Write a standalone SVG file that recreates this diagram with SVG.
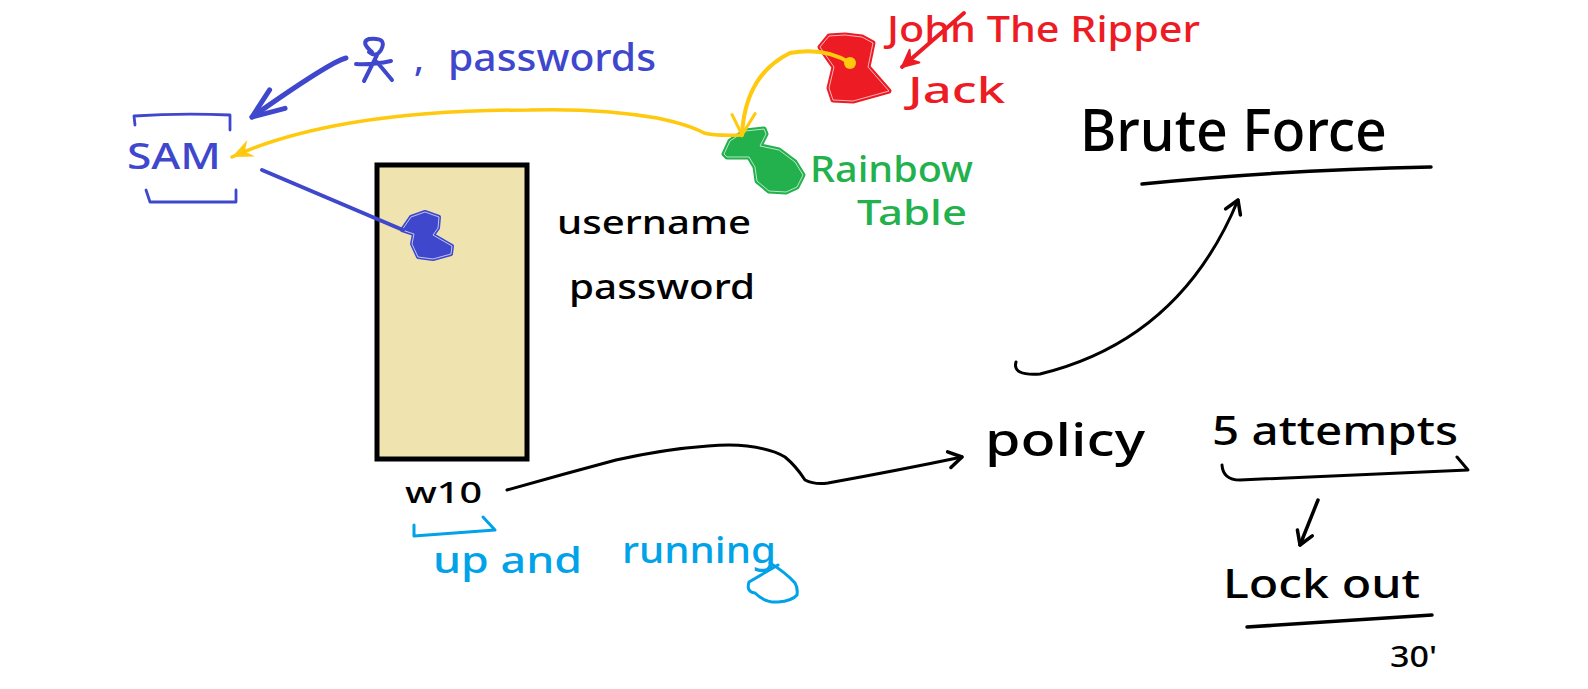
<svg xmlns="http://www.w3.org/2000/svg" width="1588" height="689" viewBox="0 0 1588 689">
<style>
text{font-family:"Noto Sans","Liberation Sans",sans-serif;font-weight:500}
.s{fill:none;stroke-linecap:round;stroke-linejoin:round}
.k{stroke:#000}.b{stroke:#3f48cc}.y{stroke:#ffc90e}.r{stroke:#ed1c24}.c{stroke:#00a2e8}
.tb{fill:#3f48cc}.tk{fill:#000}.tr{fill:#ed1c24}.tg{fill:#22b14c}.tc{fill:#00a2e8}
.edge{fill:none;stroke:#fff;stroke-width:.8;stroke-linejoin:round;opacity:.85}
</style>
<defs>
<marker id="hb" viewBox="-40 -20 44 40" refX="0" refY="0" markerWidth="44" markerHeight="40" markerUnits="userSpaceOnUse" orient="auto"><path d="M-32-12 0 0-30 12" fill="none" stroke="#3f48cc" stroke-width="5" stroke-linecap="round" stroke-linejoin="round"/></marker>
<marker id="hy" viewBox="-24 -14 28 28" refX="0" refY="0" markerWidth="28" markerHeight="28" markerUnits="userSpaceOnUse" orient="auto"><path d="M-21-9 0 0-21 9-14 0Z" fill="#ffc90e"/></marker>
<marker id="hv" viewBox="-28 -16 32 32" refX="0" refY="0" markerWidth="32" markerHeight="32" markerUnits="userSpaceOnUse" orient="auto"><path d="M-22-12 0 0-20 11" fill="none" stroke="#ffc90e" stroke-width="3" stroke-linecap="round"/></marker>
<marker id="hk" viewBox="-20 -14 24 28" refX="0" refY="0" markerWidth="24" markerHeight="28" markerUnits="userSpaceOnUse" orient="auto"><path d="M-13-8 0 0-13 8" fill="none" stroke="#000" stroke-width="3.5" stroke-linecap="round" stroke-linejoin="round"/></marker>
<marker id="hr" viewBox="-24 -14 28 28" refX="0" refY="0" markerWidth="28" markerHeight="28" markerUnits="userSpaceOnUse" orient="auto"><path d="M-16-8 0 0-17 8-11 0Z" fill="#ed1c24" stroke="#ed1c24" stroke-width="2" stroke-linejoin="round"/></marker>
</defs>

<g id="win10-box">
<rect x="377" y="165" width="150" height="294" fill="#efe4b0" stroke="#000" stroke-width="5"/>
<text class="tk" x="405" y="503" font-size="28" textLength="77" lengthAdjust="spacingAndGlyphs">w10</text>
</g>

<g id="sam">
<path class="s b" stroke-width="2.8" d="M135 125 134 116Q180 113 230 115V130M146 190 150 202H236V190"/>
<text class="tb" x="127" y="169" font-size="36" textLength="94" lengthAdjust="spacingAndGlyphs">SAM</text>
</g>

<g id="passwords-label">
<path class="s b" stroke-width="4" d="M372 52Q360 42 369 39 388 37 381 50 376 58 369 52M356 64Q372 65 391 61M377 55 364 81M377 62 392 80"/>
<text class="tb" x="414" y="71" font-size="36">,</text>
<text class="tb" x="448" y="71" font-size="38" textLength="208" lengthAdjust="spacingAndGlyphs">passwords</text>
</g>

<g id="blue-blob">
<path fill="#3f48cc" stroke="#3f48cc" stroke-width="4" stroke-linejoin="round" d="M402 230 411 217 425 212 439 217 438 228 433 235 452 246 451 254 433 259 418 257 412 244 414 234Z"/>
<path class="edge" d="M402 230 411 217 425 212 439 217 438 228 433 235 452 246 451 254 433 259 418 257 412 244 414 234Z"/>
</g>

<g id="red-blob">
<path fill="#ed1c24" stroke="#ed1c24" stroke-width="5" stroke-linejoin="round" d="M820 47 829 36 845 35 862 37 873 43 868 67 889 91 853 101 833 100 829 88 834 67Z"/>
<path class="edge" d="M820 47 829 36 845 35 862 37 873 43 868 67 889 91 853 101 833 100 829 88 834 67Z"/>
<circle cx="850" cy="63" r="6" fill="#ffc90e"/>
</g>

<g id="green-blob">
<path fill="#22b14c" stroke="#22b14c" stroke-width="5" stroke-linejoin="round" d="M724 154 730 141 745 131 764 129 766 134 760 146 779 150 795 162 803 175 797 187 786 192 769 191 757 181 755 167 749 157 727 157Z"/>
<path class="edge" d="M724 154 730 141 745 131 764 129 766 134 760 146 779 150 795 162 803 175 797 187 786 192 769 191 757 181 755 167 749 157 727 157Z"/>
</g>

<g id="labels-red">
<text class="tr" x="887" y="42" font-size="36" textLength="313" lengthAdjust="spacingAndGlyphs">John The Ripper</text>
<text class="tr" x="908" y="103" font-size="36" textLength="97" lengthAdjust="spacingAndGlyphs">Jack</text>
</g>
<g id="labels-green">
<text class="tg" x="810" y="182" font-size="36" textLength="163" lengthAdjust="spacingAndGlyphs">Rainbow</text>
<text class="tg" x="857" y="225" font-size="34" textLength="110" lengthAdjust="spacingAndGlyphs">Table</text>
</g>
<g id="labels-black">
<text class="tk" x="557" y="234" font-size="32" textLength="194" lengthAdjust="spacingAndGlyphs">username</text>
<text class="tk" x="569" y="299" font-size="34" textLength="186" lengthAdjust="spacingAndGlyphs">password</text>
<text class="tk" x="985" y="456" font-size="46" textLength="160" lengthAdjust="spacingAndGlyphs">policy</text>
<text class="tk" x="1212" y="445" font-size="40" textLength="246" lengthAdjust="spacingAndGlyphs">5 attempts</text>
<text class="tk" x="1223" y="598" font-size="40" textLength="197" lengthAdjust="spacingAndGlyphs">Lock out</text>
<text class="tk" x="1390" y="667" font-size="28" textLength="47" lengthAdjust="spacingAndGlyphs">30'</text>
<text class="tk" x="1080" y="151" font-size="58" textLength="307" lengthAdjust="spacingAndGlyphs">Brute Force</text>
</g>
<g id="labels-cyan">
<text class="tc" x="433" y="573" font-size="36" textLength="149" lengthAdjust="spacingAndGlyphs">up and</text>
<text class="tc" x="622" y="563" font-size="36" textLength="154" lengthAdjust="spacingAndGlyphs">running</text>
</g>

<g id="connectors">
<path class="s b" stroke-width="5" marker-end="url(#hb)" d="M346 58Q330 62 252 117"/>
<path class="s b" stroke-width="4" d="M262 170 403 230"/>
<path class="s y" stroke-width="3.5" marker-end="url(#hy)" d="M742 135Q715 136 704 133 690 125 657 118 600 108 529 110 430 110 350 123 280 135 232 157"/>
<path class="s y" stroke-width="4" marker-end="url(#hv)" d="M850 63Q825 47 790 53 745 75 742 135"/>
<path class="s r" stroke-width="4" marker-end="url(#hr)" d="M964 13 902 67"/>
<path class="s k" stroke-width="3" marker-end="url(#hk)" d="M507 490Q560 475 616 460 665 449 708 446 730 444 747 446 772 449 785 457 796 466 805 480 815 485 828 483 900 470 962 457"/>
<path class="s k" stroke-width="3" marker-end="url(#hk)" d="M1016 362Q1012 376 1040 374 1180 340 1238 200"/>
<path class="s k" stroke-width="3.5" marker-end="url(#hk)" d="M1318 500 1300 545"/>
<path class="s c" stroke-width="3" d="M414 525 414 536 495 530 483 517"/>
<path class="s c" stroke-width="3" d="M778 565 749 582Q746 592 755 593 765 603 778 602 792 601 797 595 798 588 795 583 785 572 770 563"/>
<path class="s k" stroke-width="3.5" d="M1142 184Q1280 170 1431 167"/>
<path class="s k" stroke-width="3" d="M1222 465Q1223 480 1240 480L1468 470 1457 457"/>
<path class="s k" stroke-width="3.5" d="M1247 627 1432 615"/>
</g>
</svg>
